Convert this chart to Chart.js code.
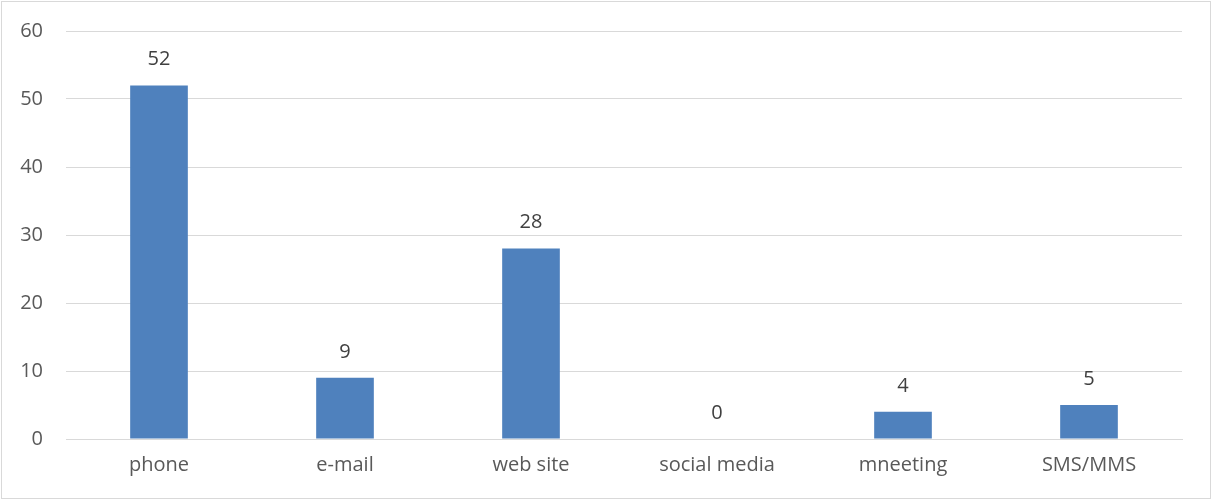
<!DOCTYPE html>
<html>
<head>
<meta charset="utf-8">
<script src="https://cdn.jsdelivr.net/npm/chart.js@4"></script>
<style>
    html, body { margin: 0; padding: 0; background: #fff; }
    #wrap { position: relative; width: 1212px; height: 501px; }
    #frame { position: absolute; left: 1px; top: 1px; right: 1px; bottom: 2px; border: 1px solid #d9d9d9; pointer-events: none; }
</style>
</head>
<body>
<div id="wrap">
    <canvas id="c" width="1212" height="501"></canvas>
    <div id="frame"></div>
</div>
<script>
    const categories = ["phone", "e-mail", "web site", "social media", "mneeting", "SMS/MMS"];
    const counts = [52, 9, 28, 0, 4, 5];
    const yTicks = [0, 10, 20, 30, 40, 50, 60];

    const FONT = "'Open Sans', 'Liberation Sans', sans-serif";

    // value labels above each bar
    const valueLabels = {
        id: "valueLabels",
        afterDatasetsDraw: function (chart) {
            const ctx = chart.ctx;
            const meta = chart.getDatasetMeta(0);
            ctx.save();
            ctx.font = "20px " + FONT;
            ctx.fillStyle = "#404040";
            ctx.textAlign = "center";
            ctx.textBaseline = "middle";
            meta.data.forEach(function (bar, i) {
                ctx.fillText(String(counts[i]), bar.x, bar.y - 26);
            });
            ctx.restore();
        }
    };

    new Chart(document.getElementById("c").getContext("2d"), {
        type: "bar",
        data: {
            labels: categories,
            datasets: [{
                data: counts,
                backgroundColor: "#4f81bd",
                borderWidth: 0,
                barPercentage: 0.31,
                categoryPercentage: 1
            }]
        },
        options: {
            responsive: false,
            animation: false,
            devicePixelRatio: 1,
            layout: { padding: { left: 0, right: 30, top: 31, bottom: 0 } },
            plugins: {
                legend: { display: false },
                tooltip: { enabled: false }
            },
            scales: {
                x: {
                    grid: { display: false, drawTicks: false },
                    border: { color: "#d9d9d9", width: 1 },
                    ticks: { color: "#595959", font: { family: FONT, size: 20 }, padding: 14, maxRotation: 0 },
                    afterFit: function (s) { s.height = 62; s.paddingLeft = 0; s.paddingRight = 0; }
                },
                y: {
                    min: 0,
                    max: 60,
                    afterBuildTicks: function (s) { s.ticks = yTicks.map(function (v) { return { value: v }; }); },
                    grid: { color: "#d9d9d9", lineWidth: 1, drawTicks: false },
                    border: { display: false },
                    ticks: { color: "#595959", font: { family: FONT, size: 20 }, padding: 23 },
                    afterFit: function (s) { s.width = 66; s.paddingTop = 0; s.paddingBottom = 0; }
                }
            }
        },
        plugins: [valueLabels]
    });
</script>
</body>
</html>
